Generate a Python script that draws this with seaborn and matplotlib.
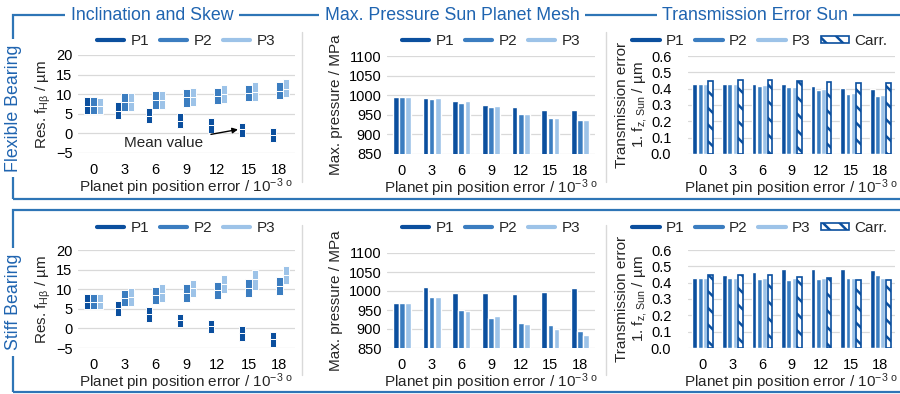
import numpy as np
import pandas as pd
import matplotlib
matplotlib.use("Agg")
import matplotlib.pyplot as plt
import seaborn as sns
from matplotlib.lines import Line2D
from matplotlib.patches import Patch, Rectangle

# x categories (planet pin position error / 10^-3 deg)
errors = ["0", "3", "6", "9", "12", "15", "18"]
planets = ["P1", "P2", "P3"]

# Inclination and skew, residual f_Hb in um: lower end, mean, upper end per planet
flex_lo = [[4.9, 3.8, 2.7, 1.3, 0.2, -1.0, -2.1],
           [4.9, 5.7, 6.2, 6.8, 7.5, 8.3, 8.8],
           [4.9, 5.7, 6.2, 7.0, 7.7, 8.3, 9.2]]
flex_mean = [[7.1, 5.8, 4.4, 3.1, 2.1, 1.0, -0.3],
             [7.1, 8.0, 8.4, 9.2, 9.6, 10.4, 10.9],
             [7.0, 8.0, 8.4, 9.3, 10.0, 10.6, 11.3]]
flex_hi = [[9.2, 7.9, 6.5, 5.3, 4.0, 2.7, 1.4],
           [9.2, 10.2, 10.9, 11.3, 11.7, 12.3, 13.0],
           [9.0, 10.2, 10.9, 11.6, 12.3, 13.0, 13.8]]

stiff_lo = [[4.9, 3.1, 1.7, 0.4, -1.1, -3.2, -4.7],
            [4.9, 5.7, 6.2, 6.8, 7.6, 8.1, 8.5],
            [4.9, 5.7, 6.8, 7.9, 9.1, 9.9, 11.3]]
stiff_mean = [[6.8, 5.1, 3.6, 2.1, 0.6, -1.3, -2.7],
              [6.8, 7.8, 8.5, 9.1, 9.7, 10.3, 10.8],
              [6.8, 8.0, 9.0, 10.2, 11.3, 12.5, 13.6]]
stiff_hi = [[8.9, 7.0, 5.5, 3.6, 2.1, 0.6, -0.8],
            [8.9, 9.7, 10.6, 11.2, 11.9, 12.5, 13.0],
            [8.9, 10.2, 11.3, 12.3, 13.6, 14.8, 15.8]]

# Max. pressure sun planet mesh in MPa
flex_press = {"P1": [995, 993, 986, 975, 969, 963, 963],
              "P2": [995, 991, 979, 970, 952, 941, 938],
              "P3": [995, 993, 984, 973, 953, 941, 938]}
stiff_press = {"P1": [968, 1010, 996, 996, 991, 998, 1007],
               "P2": [968, 983, 950, 930, 916, 910, 894],
               "P3": [968, 983, 948, 933, 914, 899, 885]}

# Transmission error sun, 1. order, in um
flex_te = {"P1": [0.427, 0.431, 0.431, 0.427, 0.419, 0.405, 0.397],
           "P2": [0.427, 0.427, 0.419, 0.409, 0.390, 0.370, 0.358],
           "P3": [0.427, 0.427, 0.423, 0.409, 0.397, 0.376, 0.364],
           "Carr.": [0.447, 0.452, 0.452, 0.447, 0.441, 0.437, 0.437]}
stiff_te = {"P1": [0.426, 0.444, 0.467, 0.481, 0.485, 0.485, 0.477],
            "P2": [0.426, 0.426, 0.422, 0.416, 0.422, 0.430, 0.444],
            "P3": [0.430, 0.426, 0.426, 0.426, 0.426, 0.426, 0.430],
            "Carr.": [0.444, 0.450, 0.444, 0.436, 0.426, 0.416, 0.416]}

colors = ["#0b4f9e", "#3b7dc0", "#9dc3e8"]
frame_col = "#2e75b6"
title_col = "#1f64b0"
grid_col = "#d9d9d9"

sns.set_theme(style="white")
plt.rcParams["font.family"] = ["Liberation Sans", "DejaVu Sans"]
plt.rcParams["mathtext.default"] = "regular"
plt.rcParams["hatch.linewidth"] = 1.8

W, H = 900, 394
fig = plt.figure(figsize=(9, 3.94), dpi=100)


def rect(x0, x1, y0, y1):
    # pixel box -> figure fraction
    return [x0 / W, 1 - y1 / H, (x1 - x0) / W, (y1 - y0) / H]


xlabel = "Planet pin position error / 10$^{-3\\ o}$"
FS = 10.5
LFS = 11


def style(ax, ylim, ticks, pad=4):
    ax.set_ylim(*ylim)
    ax.set_yticks(ticks)
    ax.grid(axis="y", color=grid_col, lw=0.9)
    ax.set_axisbelow(True)
    sns.despine(ax=ax, left=True, bottom=True)
    ax.tick_params(axis="both", length=0, labelsize=FS, colors="black")
    ax.tick_params(axis="y", pad=pad)
    ax.tick_params(axis="x", pad=7)
    ax.set_xlabel(xlabel, fontsize=LFS, labelpad=0)


def legend(cx, cy, with_carr=False):
    handles = [Line2D([0], [0], color=c, lw=3) for c in colors]
    labels = list(planets)
    if with_carr:
        handles.append(Patch(facecolor="white", edgecolor=colors[0], hatch="\\\\", lw=1.2))
        labels.append("Carr.")
    fig.legend(handles, labels, loc="center", bbox_to_anchor=(cx / W, 1 - cy / H),
               ncol=len(labels), frameon=False, fontsize=LFS, handlelength=1.8,
               handleheight=0.35, handletextpad=0.4, columnspacing=0.7)


def boxes(ax, lo, mean, hi):
    x = np.arange(len(errors))
    for i, off in enumerate([-0.22, 0.0, 0.22]):
        lo_i, mean_i, hi_i = np.array(lo[i]), np.array(mean[i]), np.array(hi[i])
        ax.bar(x + off, mean_i - lo_i, bottom=lo_i, width=0.2, color=colors[i],
               edgecolor="white", lw=0.7)
        ax.bar(x + off, hi_i - mean_i, bottom=mean_i, width=0.2, color=colors[i],
               edgecolor="white", lw=0.7)
    ax.set_xticks(x, errors)
    ax.set_xlim(-0.5, len(errors) - 0.5)


def long_df(d):
    return pd.DataFrame([(e, k, v) for k, vals in d.items() for e, v in zip(errors, vals)],
                        columns=["err", "series", "val"])


rows = [
    dict(box=(flex_lo, flex_mean, flex_hi), press=flex_press, te=flex_te,
         r=[rect(78, 295, 55, 153), rect(387, 595, 56, 154), rect(688, 895, 56, 154)],
         leg_y=41),
    dict(box=(stiff_lo, stiff_mean, stiff_hi), press=stiff_press, te=stiff_te,
         r=[rect(78, 295, 250, 348), rect(387, 595, 253, 348), rect(688, 895, 250, 348)],
         leg_y=228),
]

box_axes = []
for row in rows:
    ax1 = fig.add_axes(row["r"][0])
    boxes(ax1, *row["box"])
    style(ax1, (-5, 20), [-5, 0, 5, 10, 15, 20])
    ax1.set_ylabel("Res. f$_{Hβ}$ / µm", fontsize=LFS, labelpad=2)
    legend(186, row["leg_y"])
    box_axes.append(ax1)

    ax2 = fig.add_axes(row["r"][1])
    sns.barplot(data=long_df(row["press"]), x="err", y="val", hue="series",
                palette=colors, width=0.62, gap=0.08, saturation=1,
                legend=False, ax=ax2)
    style(ax2, (850, 1100), [850, 900, 950, 1000, 1050, 1100])
    ax2.set_ylabel("Max. pressure / MPa", fontsize=LFS, labelpad=4)
    legend(491, row["leg_y"])

    ax3 = fig.add_axes(row["r"][2])
    sns.barplot(data=long_df(row["te"]), x="err", y="val", hue="series",
                palette=colors + [colors[0]], width=0.72, gap=0.1, saturation=1,
                legend=False, ax=ax3)
    for p in ax3.containers[3]:
        p.set_facecolor("white")
        p.set_edgecolor(colors[0])
        p.set_hatch("\\\\")
        p.set_linewidth(1.2)
    style(ax3, (0, 0.6), [0, 0.1, 0.2, 0.3, 0.4, 0.5, 0.6], pad=12)
    ax3.set_yticklabels([f"{t:.1f}" for t in ax3.get_yticks()])
    ax3.set_ylabel("Transmission error\n1. f$_{z,}$$_{Sun}$ / µm", fontsize=LFS,
                   labelpad=1, linespacing=1.1)
    legend(760, row["leg_y"], with_carr=True)

# mean value hint in the flexible bearing panel (P1 at 15)
box_axes[0].annotate("Mean value", xy=(4.66, flex_mean[0][5]), xytext=(3.55, -2.4),
                     ha="right", va="center", fontsize=LFS,
                     arrowprops=dict(arrowstyle="-|>", color="black", lw=1,
                                     shrinkA=3, shrinkB=0, mutation_scale=8))

# blue frames around both rows
for y0, y1 in [(15, 199), (210, 392)]:
    fig.add_artist(Rectangle((13 / W, 1 - y1 / H), 1.0, (y1 - y0) / H, fill=False,
                             edgecolor=frame_col, lw=1.6, transform=fig.transFigure,
                             clip_on=False))

# light separators between panels
for y0, y1 in [(32, 182), (225, 375)]:
    for xs in [302, 606]:
        fig.add_artist(Line2D([xs / W, xs / W], [1 - y0 / H, 1 - y1 / H],
                              color=grid_col, lw=1, transform=fig.transFigure))

box_kw = dict(facecolor="white", edgecolor="none", pad=4)
for txt, cx in [("Inclination and Skew", 152), ("Max. Pressure Sun Planet Mesh", 452),
                ("Transmission Error Sun", 755)]:
    fig.text(cx / W, 1 - 15 / H, txt, ha="center", va="center", fontsize=12.8,
             color=title_col, bbox=box_kw)

for txt, cy in [("Flexible Bearing", 108), ("Stiff Bearing", 302)]:
    fig.text(14 / W, 1 - cy / H, txt, ha="center", va="center", rotation=90,
             fontsize=12.8, color=title_col, bbox=box_kw)

fig.savefig("out.png", dpi=100)
